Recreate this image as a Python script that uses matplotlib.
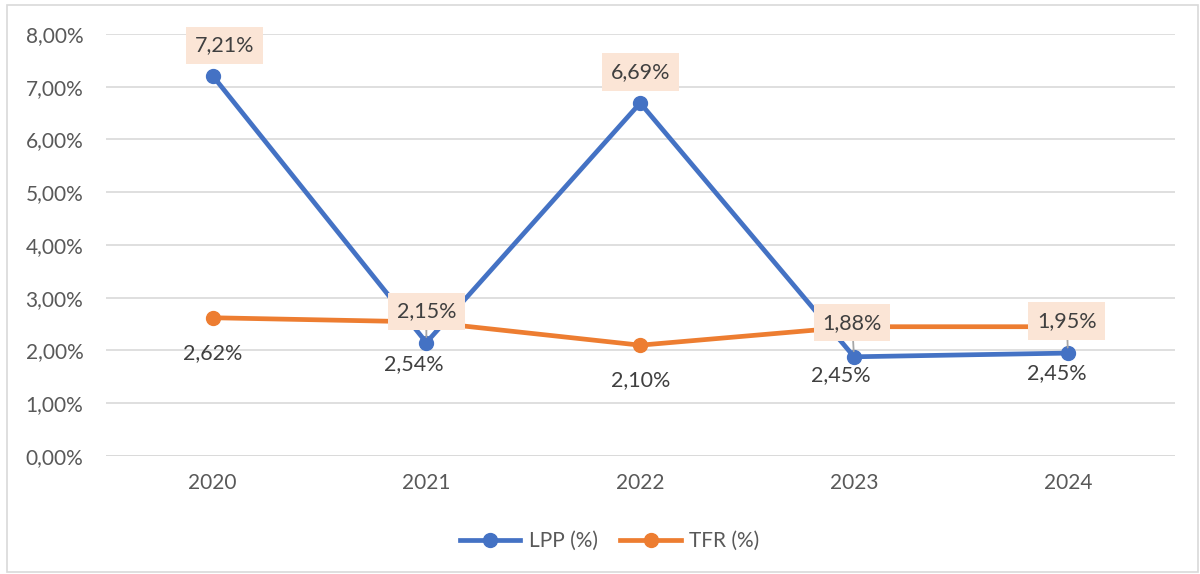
import matplotlib.pyplot as plt
from matplotlib.patches import Rectangle

years = ['2020', '2021', '2022', '2023', '2024']
lpp = [7.21, 2.15, 6.69, 1.88, 1.95]
tfr = [2.62, 2.54, 2.10, 2.45, 2.45]

plt.rcParams['font.family'] = ['Lato', 'DejaVu Sans']

fig = plt.figure(figsize=(12, 5.74), dpi=100)
ax = fig.add_axes([0.088, 0.2056, 0.891, 0.7354])

x = list(range(len(years)))
ax.plot(x, lpp, color='#4472c4', lw=3.4, marker='o', ms=10, label='LPP (%)', zorder=3)
ax.plot(x, tfr, color='#ed7d31', lw=3.4, marker='o', ms=10, label='TFR (%)', zorder=2)

def fmt(v):
    return f'{v:.2f}%'.replace('.', ',')

# label offsets in pixels
lpp_off = [(12, 30), (0, 31), (0, 31), (-2, 34), (-1, 32)]
tfr_off = [(0, -35), (-13, -42), (0, -35), (-13, -48), (-11, -46)]
leader = [False, True, False, True, True]

for i, v in enumerate(lpp):
    ap = None
    if leader[i]:
        ap = dict(arrowstyle='-', color='#a6a6a6', lw=1.3, shrinkA=0, shrinkB=4)
    ax.annotate(fmt(v), (i, v), xytext=lpp_off[i], textcoords='offset pixels',
                ha='center', va='center', fontsize=15.5, color='#404040',
                bbox=dict(boxstyle='square,pad=0.4', fc='#fbe5d6', ec='none'),
                arrowprops=ap, zorder=5)

for i, v in enumerate(tfr):
    ax.annotate(fmt(v), (i, v), xytext=tfr_off[i], textcoords='offset pixels',
                ha='center', va='center', fontsize=15.5, color='#404040', zorder=5)

ax.set_xlim(-0.5, 4.5)
ax.set_ylim(0, 8)
ax.set_yticks([0, 1, 2, 3, 4, 5, 6, 7, 8])
ax.set_yticklabels([fmt(t) for t in range(9)])
ax.set_xticks(x)
ax.set_xticklabels(years)
ax.tick_params(length=0, labelsize=15, labelcolor='#595959')
ax.tick_params(axis='x', pad=12)
ax.tick_params(axis='y', pad=16)
ax.grid(axis='y', color='#d9d9d9', lw=1.2)
ax.set_axisbelow(True)
for s in ax.spines.values():
    s.set_visible(False)
ax.axhline(0, color='#d9d9d9', lw=1.2, zorder=0)

h, l = ax.get_legend_handles_labels()
fig.legend(h, l, loc='center', bbox_to_anchor=(0.508, 0.0575), ncol=2, frameon=False,
           fontsize=15, labelcolor='#595959', handlelength=2.9, handletextpad=0.4,
           columnspacing=1.1)

fig.patches.append(Rectangle((0.006, 0.003), 0.992, 0.988, transform=fig.transFigure,
                             fill=False, ec='#d9d9d9', lw=1.2))

fig.savefig('out.png', dpi=100)
